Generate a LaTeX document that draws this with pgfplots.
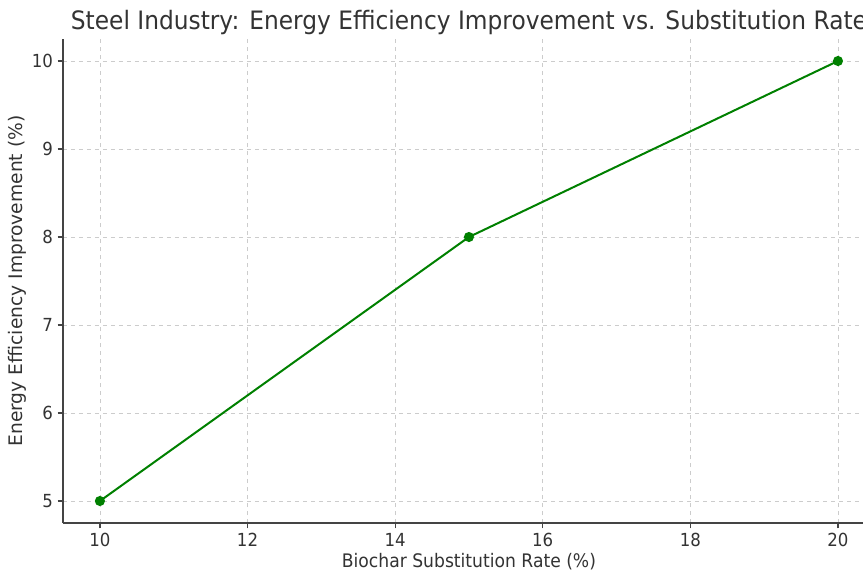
\documentclass[border=0pt]{standalone}
\usepackage{pgfplots}
\pgfplotsset{compat=1.18}
\usepackage{fontspec}
\setmainfont{DejaVu Sans}[FakeStretch=0.92]
\newfontfamily\ylabfont{DejaVu Sans}
\definecolor{txt}{HTML}{333333}
\definecolor{spine}{HTML}{444444}
\definecolor{gridc}{HTML}{CCCCCC}
\definecolor{lgreen}{RGB}{0,128,0}

\begin{document}
\begin{tikzpicture}
    \begin{axis}[
        scale only axis,
        width=608.9pt, height=363pt,
        xmin=9.5, xmax=20.5,
        ymin=4.75, ymax=10.25,
        axis lines*=left,
        axis line style={spine, line width=1.1pt},
        xtick={10,12,14,16,18,20},
        ytick={5,6,7,8,9,10},
        tick align=outside,
        major tick length=4pt,
        tick style={spine, line width=0.9pt},
        grid=major,
        grid style={gridc, dashed, line width=0.6pt},
        ticklabel style={font=\fontsize{13.5}{16}\selectfont, text=txt},
        /pgf/number format/assume math mode=true,
        xlabel={Biochar Substitution Rate (\%)},
        ylabel={Energy Efficiency Improvement (\%)},
        xlabel style={font=\fontsize{14}{16}\selectfont, text=txt, yshift=2pt},
        ylabel style={font=\ylabfont\fontsize{14}{16}\selectfont, text=txt, yshift=-3pt},
        title={Steel Industry: Energy Efficiency Improvement vs. Substitution Rate},
        title style={font=\fontsize{19}{22}\selectfont, text=txt, yshift=-6pt},
    ]
    \addplot[lgreen, line width=1.5pt, mark=*, mark size=3pt,
        mark options={fill=lgreen, draw=lgreen}] coordinates {
        (10,5)
        (15,8)
        (20,10)
    };
    \end{axis}
    \pgfresetboundingbox
    \path (-47.25pt,-36.75pt) rectangle (600pt,392.25pt);
\end{tikzpicture}
\end{document}
